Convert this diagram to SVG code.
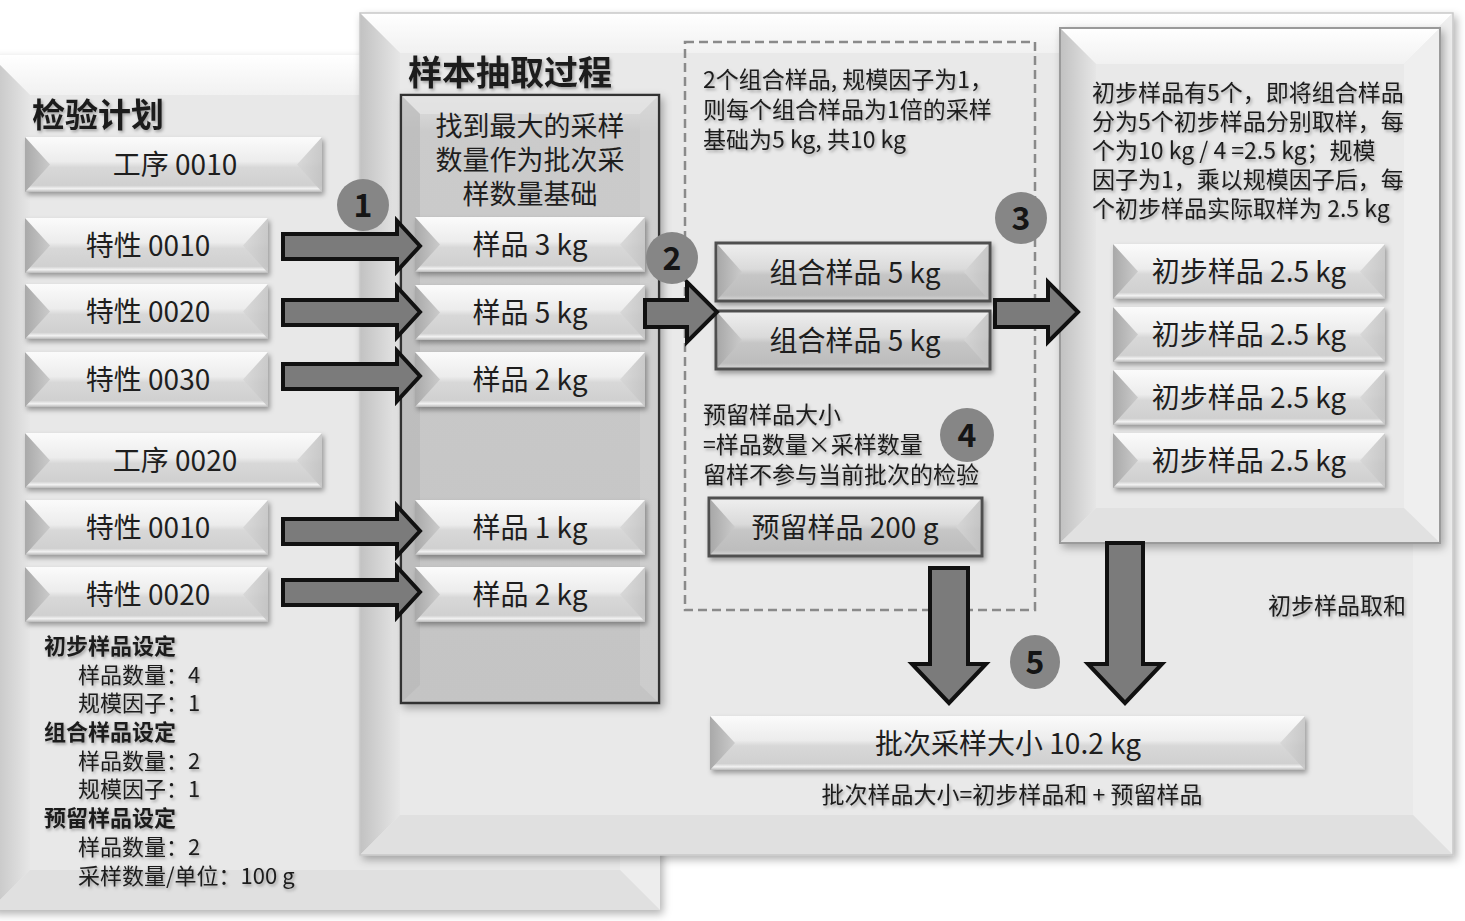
<svg xmlns="http://www.w3.org/2000/svg" width="1465" height="921" viewBox="0 0 1465 921">
<defs>
<filter id="sh" x="-10%" y="-20%" width="130%" height="150%"><feDropShadow dx="2" dy="3" stdDeviation="2.5" flood-color="#000" flood-opacity="0.35"/></filter>
<filter id="psh" x="-5%" y="-5%" width="110%" height="110%"><feDropShadow dx="3" dy="4" stdDeviation="4" flood-color="#000" flood-opacity="0.3"/></filter>
<filter id="tsh" x="-5%" y="-20%" width="110%" height="160%"><feDropShadow dx="1.5" dy="2" stdDeviation="1.5" flood-color="#000" flood-opacity="0.3"/></filter>
<linearGradient id="btn" x1="0" y1="0" x2="0" y2="1">
<stop offset="0" stop-color="#fbfbfb"/><stop offset="0.45" stop-color="#ececec"/><stop offset="0.55" stop-color="#d8d8d8"/><stop offset="0.88" stop-color="#d0d0d0"/><stop offset="0.94" stop-color="#f2f2f2"/><stop offset="1" stop-color="#b9b9b9"/>
</linearGradient>
<linearGradient id="btnD" x1="0" y1="0" x2="0" y2="1">
<stop offset="0" stop-color="#efefef"/><stop offset="0.45" stop-color="#dadada"/><stop offset="0.55" stop-color="#c6c6c6"/><stop offset="0.9" stop-color="#bdbdbd"/><stop offset="1" stop-color="#d9d9d9"/>
</linearGradient>
<linearGradient id="lf" x1="0" y1="0" x2="1" y2="0"><stop offset="0" stop-color="#a9a9a9"/><stop offset="1" stop-color="#cbcbcb"/></linearGradient>
<linearGradient id="rf" x1="0" y1="0" x2="1" y2="0"><stop offset="0" stop-color="#d6d6d6"/><stop offset="1" stop-color="#c2c2c2"/></linearGradient>
<linearGradient id="topf" x1="0" y1="0" x2="0" y2="1"><stop offset="0" stop-color="#ffffff"/><stop offset="1" stop-color="#f1f1f1"/></linearGradient>
<linearGradient id="leftp" x1="0" y1="0" x2="1" y2="0"><stop offset="0" stop-color="#c2c2c2"/><stop offset="1" stop-color="#e6e6e6"/></linearGradient>
<linearGradient id="proc" x1="0" y1="0" x2="0" y2="1"><stop offset="0" stop-color="#e2e2e2"/><stop offset="0.06" stop-color="#cbcbcb"/><stop offset="1" stop-color="#c4c4c4"/></linearGradient>
<style>
text{font-family:"Noto Sans CJK SC","Noto Sans",sans-serif;fill:#1e1e1e}
.bt{font-size:28px;text-anchor:middle}
.pt{font-size:27px;text-anchor:middle}
.face{fill:url(#btn)}
.faceD{fill:url(#btnD);stroke:#505050;stroke-width:3}
.lt{fill:url(#lf)}
.rt{fill:url(#rf);opacity:0.85}
.t23{font-size:23px}
.t22{font-size:22px}
.ttl{font-weight:bold}
.arr{fill:#7b7b7b;stroke:#111;stroke-width:4;stroke-linejoin:miter}
.num{fill:#868686}
.nt{font-size:32px;font-weight:bold;text-anchor:middle;fill:#151515}
</style>
</defs>
<rect x="0" y="0" width="1465" height="921" fill="#ffffff"/>

<!-- left panel -->
<g id="panel-plan" filter="url(#psh)">
<rect x="-10" y="55" width="670" height="855" fill="#e8e8e8"/>
<polygon points="-10,55 660,55 620,95 30,95" fill="url(#topf)"/>
<polygon points="-10,55 30,95 30,870 -10,910" fill="url(#leftp)"/>
<polygon points="660,55 620,95 620,870 660,910" fill="#ededed"/>
<polygon points="-10,910 30,870 620,870 660,910" fill="#e0e0e0"/>
</g>
<text x="32" y="127" font-size="33" class="ttl" filter="url(#tsh)">检验计划</text>

<!-- right panel -->
<g id="panel-process" filter="url(#psh)">
<rect x="360" y="13" width="1093" height="842" fill="#e9e9e9"/>
<polygon points="360,13 1453,13 1413,53 400,53" fill="url(#topf)"/>
<polygon points="360,13 400,53 400,815 360,855" fill="url(#leftp)"/>
<polygon points="1453,13 1413,53 1413,815 1453,855" fill="#eeeeee"/>
<polygon points="360,855 400,815 1413,815 1453,855" fill="#e0e0e0"/>
<rect x="360" y="13" width="1093" height="842" fill="none" stroke="#c8c8c8" stroke-width="1.5"/>
</g>
<text x="408" y="85" font-size="34" class="ttl" filter="url(#tsh)">样本抽取过程</text>

<!-- process box -->
<g id="box-max">
<g filter="url(#psh)">
<rect x="401" y="95" width="258" height="608" fill="url(#proc)" stroke="#333" stroke-width="2.5"/>
<polygon points="402,96 658,96 640,114 420,114" fill="#e4e4e4" opacity="0.8"/>
<polygon points="402,96 420,114 420,685 402,702" fill="#b9b9b9" opacity="0.7"/>
<polygon points="658,96 640,114 640,685 658,702" fill="#d2d2d2" opacity="0.6"/>
</g>
<text class="pt"><tspan x="530" y="136">找到最大的采样</tspan><tspan x="530" y="170">数量作为批次采</tspan><tspan x="530" y="204">样数量基础</tspan></text>
</g>

<!-- dashed box -->
<g id="box-combined">
<rect x="685" y="42" width="350" height="568" fill="none" stroke="#8a8a8a" stroke-width="2.5" stroke-dasharray="9,5"/>
<text class="t23" filter="url(#tsh)"><tspan x="703" y="88">2个组合样品, 规模因子为1，</tspan><tspan x="703" y="118">则每个组合样品为1倍的采样</tspan><tspan x="703" y="148">基础为5 kg, 共10 kg</tspan></text>
<text class="t23" filter="url(#tsh)"><tspan x="703" y="423">预留样品大小</tspan><tspan x="703" y="453">=样品数量×采样数量</tspan><tspan x="703" y="483">留样不参与当前批次的检验</tspan></text>
</g>

<!-- initial sample box -->
<g id="box-initial">
<g filter="url(#psh)">
<rect x="1060" y="28" width="380" height="515" fill="#e9e9e9" stroke="#9a9a9a" stroke-width="2"/>
<polygon points="1061,29 1439,29 1404,64 1096,64" fill="url(#topf)"/>
<polygon points="1061,29 1096,64 1096,508 1061,542" fill="url(#leftp)"/>
<polygon points="1439,29 1404,64 1404,508 1439,542" fill="#efefef"/>
<polygon points="1061,542 1096,508 1404,508 1439,542" fill="#e1e1e1"/>
</g>
<text class="t23" filter="url(#tsh)"><tspan x="1092" y="101">初步样品有5个，即将组合样品</tspan><tspan x="1092" y="130">分为5个初步样品分别取样，每</tspan><tspan x="1092" y="159">个为10 kg / 4 =2.5 kg；规模</tspan><tspan x="1092" y="188">因子为1，乘以规模因子后，每</tspan><tspan x="1092" y="217">个初步样品实际取样为  2.5 kg</tspan></text>
</g>

<!-- left buttons -->
<g id="op-0010"><g filter="url(#sh)"><rect x="25" y="137" width="297" height="55" class="face"/><polygon points="25,137 50,164.5 25,192" class="lt"/><polygon points="322,137 297,164.5 322,192" class="rt"/></g><text x="175" y="175" class="bt">工序 0010</text></g>
<g id="ch-0010a"><g filter="url(#sh)"><rect x="25" y="218" width="243" height="55" class="face"/><polygon points="25,218 50,245.5 25,273" class="lt"/><polygon points="268,218 243,245.5 268,273" class="rt"/></g><text x="148" y="256" class="bt">特性 0010</text></g>
<g id="ch-0020a"><g filter="url(#sh)"><rect x="25" y="284" width="243" height="55" class="face"/><polygon points="25,284 50,311.5 25,339" class="lt"/><polygon points="268,284 243,311.5 268,339" class="rt"/></g><text x="148" y="322" class="bt">特性 0020</text></g>
<g id="ch-0030a"><g filter="url(#sh)"><rect x="25" y="352" width="243" height="55" class="face"/><polygon points="25,352 50,379.5 25,407" class="lt"/><polygon points="268,352 243,379.5 268,407" class="rt"/></g><text x="148" y="390" class="bt">特性 0030</text></g>
<g id="op-0020"><g filter="url(#sh)"><rect x="25" y="433" width="297" height="55" class="face"/><polygon points="25,433 50,460.5 25,488" class="lt"/><polygon points="322,433 297,460.5 322,488" class="rt"/></g><text x="175" y="471" class="bt">工序 0020</text></g>
<g id="ch-0010b"><g filter="url(#sh)"><rect x="25" y="500" width="243" height="55" class="face"/><polygon points="25,500 50,527.5 25,555" class="lt"/><polygon points="268,500 243,527.5 268,555" class="rt"/></g><text x="148" y="538" class="bt">特性 0010</text></g>
<g id="ch-0020b"><g filter="url(#sh)"><rect x="25" y="567" width="243" height="55" class="face"/><polygon points="25,567 50,594.5 25,622" class="lt"/><polygon points="268,567 243,594.5 268,622" class="rt"/></g><text x="148" y="605" class="bt">特性 0020</text></g>

<!-- settings text -->
<g id="settings" filter="url(#tsh)">
<text class="t22"><tspan x="44" y="654" font-weight="bold">初步样品设定</tspan><tspan x="78" y="683">样品数量：4</tspan><tspan x="78" y="711">规模因子：1</tspan><tspan x="44" y="740" font-weight="bold">组合样品设定</tspan><tspan x="78" y="769">样品数量：2</tspan><tspan x="78" y="797">规模因子：1</tspan><tspan x="44" y="826" font-weight="bold">预留样品设定</tspan><tspan x="78" y="855">样品数量：2</tspan><tspan x="78" y="884">采样数量/单位：100 g</tspan></text>
</g>

<!-- sample buttons -->
<g id="s-3kg"><g filter="url(#sh)"><rect x="415" y="217" width="230" height="55" class="face"/><polygon points="415,217 440,244.5 415,272" class="lt"/><polygon points="645,217 620,244.5 645,272" class="rt"/></g><text x="530" y="255" class="bt">样品 3 kg</text></g>
<g id="s-5kg"><g filter="url(#sh)"><rect x="415" y="285" width="230" height="55" class="face"/><polygon points="415,285 440,312.5 415,340" class="lt"/><polygon points="645,285 620,312.5 645,340" class="rt"/></g><text x="530" y="323" class="bt">样品 5 kg</text></g>
<g id="s-2kg"><g filter="url(#sh)"><rect x="415" y="352" width="230" height="55" class="face"/><polygon points="415,352 440,379.5 415,407" class="lt"/><polygon points="645,352 620,379.5 645,407" class="rt"/></g><text x="530" y="390" class="bt">样品 2 kg</text></g>
<g id="s-1kg"><g filter="url(#sh)"><rect x="415" y="500" width="230" height="55" class="face"/><polygon points="415,500 440,527.5 415,555" class="lt"/><polygon points="645,500 620,527.5 645,555" class="rt"/></g><text x="530" y="538" class="bt">样品 1 kg</text></g>
<g id="s-2kg-b"><g filter="url(#sh)"><rect x="415" y="567" width="230" height="55" class="face"/><polygon points="415,567 440,594.5 415,622" class="lt"/><polygon points="645,567 620,594.5 645,622" class="rt"/></g><text x="530" y="605" class="bt">样品 2 kg</text></g>

<!-- combined -->
<g id="c-1"><g filter="url(#sh)"><rect x="716" y="243" width="274" height="58" class="faceD"/><polygon points="718,245 742,272 718,299" class="lt"/><polygon points="988,245 964,272 988,299" class="rt"/></g><text x="855" y="283" class="bt">组合样品 5 kg</text></g>
<g id="c-2"><g filter="url(#sh)"><rect x="716" y="311" width="274" height="58" class="faceD"/><polygon points="718,313 742,340 718,367" class="lt"/><polygon points="988,313 964,340 988,367" class="rt"/></g><text x="855" y="351" class="bt">组合样品 5 kg</text></g>
<g id="reserve"><g filter="url(#sh)"><rect x="709" y="498" width="273" height="58" class="faceD"/><polygon points="711,500 735,527 711,554" class="lt"/><polygon points="980,500 956,527 980,554" class="rt"/></g><text x="845" y="538" class="bt">预留样品 200 g</text></g>

<!-- initial -->
<g id="i-1"><g filter="url(#sh)"><rect x="1113" y="244" width="272" height="55" class="face"/><polygon points="1113,244 1138,271.5 1113,299" class="lt"/><polygon points="1385,244 1360,271.5 1385,299" class="rt"/></g><text x="1249" y="282" class="bt">初步样品 2.5 kg</text></g>
<g id="i-2"><g filter="url(#sh)"><rect x="1113" y="307" width="272" height="55" class="face"/><polygon points="1113,307 1138,334.5 1113,362" class="lt"/><polygon points="1385,307 1360,334.5 1385,362" class="rt"/></g><text x="1249" y="345" class="bt">初步样品 2.5 kg</text></g>
<g id="i-3"><g filter="url(#sh)"><rect x="1113" y="370" width="272" height="55" class="face"/><polygon points="1113,370 1138,397.5 1113,425" class="lt"/><polygon points="1385,370 1360,397.5 1385,425" class="rt"/></g><text x="1249" y="408" class="bt">初步样品 2.5 kg</text></g>
<g id="i-4"><g filter="url(#sh)"><rect x="1113" y="433" width="272" height="55" class="face"/><polygon points="1113,433 1138,460.5 1113,488" class="lt"/><polygon points="1385,433 1360,460.5 1385,488" class="rt"/></g><text x="1249" y="471" class="bt">初步样品 2.5 kg</text></g>

<text x="1268" y="614" class="t23" filter="url(#tsh)">初步样品取和</text>

<!-- total -->
<g id="total"><g filter="url(#sh)"><rect x="710" y="716" width="595" height="54" class="face"/><polygon points="710,716 735,743 710,770" class="lt"/><polygon points="1305,716 1280,743 1305,770" class="rt"/></g><text x="1008" y="754" class="bt">批次采样大小 10.2 kg</text></g>
<text x="1012" y="803" class="t23" text-anchor="middle" filter="url(#tsh)">批次样品大小=初步样品和  + 预留样品</text>

<!-- connectors -->
<g id="connectors">
<polygon class="arr" points="283,234 397,234 397,221 420,246 397,271 397,259 283,259"/>
<polygon class="arr" points="283,300 397,300 397,287 420,312 397,337 397,325 283,325"/>
<polygon class="arr" points="283,364 397,364 397,351 420,376 397,401 397,389 283,389"/>
<polygon class="arr" points="283,519 397,519 397,506 420,531 397,556 397,544 283,544"/>
<polygon class="arr" points="283,580 397,580 397,567 420,592 397,617 397,605 283,605"/>
<polygon class="arr" points="645,300 687,300 687,282 717,312 687,342 687,327 645,327"/>
<polygon class="arr" points="995,300 1048,300 1048,282 1078,312 1048,342 1048,327 995,327"/>
<polygon class="arr" points="930,568 968,568 968,664 986,664 949,703 912,664 930,664"/>
<polygon class="arr" points="1107,543 1143,543 1143,664 1162,664 1125,703 1088,664 1107,664"/>
</g>

<!-- step markers -->
<g id="step1"><circle cx="363" cy="205" r="26" class="num"/><text x="363" y="217" class="nt">1</text></g>
<g id="step2"><circle cx="672" cy="258" r="26" class="num"/><text x="672" y="270" class="nt">2</text></g>
<g id="step3"><circle cx="1021" cy="218" r="26" class="num"/><text x="1021" y="230" class="nt">3</text></g>
<g id="step4"><circle cx="967" cy="435" r="27" class="num"/><text x="967" y="447" class="nt">4</text></g>
<g id="step5"><ellipse cx="1035" cy="662" rx="25" ry="27" class="num"/><text x="1035" y="674" class="nt">5</text></g>
</svg>
